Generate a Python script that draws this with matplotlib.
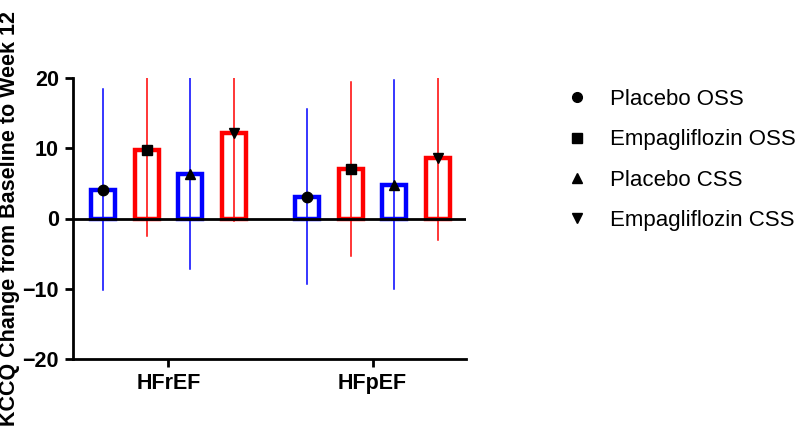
import matplotlib
matplotlib.use("Agg")
import matplotlib.pyplot as plt
from matplotlib.lines import Line2D

plt.rcParams['font.family'] = ['Liberation Sans', 'DejaVu Sans']

groups = ["HFrEF", "HFpEF"]
series = ["Placebo OSS", "Empagliflozin OSS", "Placebo CSS", "Empagliflozin CSS"]
colors = ["#0000ff", "#ff0000", "#0000ff", "#ff0000"]
markers = ["o", "s", "^", "v"]

# mean change per group, one list per series
means = {
    "Placebo OSS": [4.1, 3.1],
    "Empagliflozin OSS": [9.7, 7.0],
    "Placebo CSS": [6.4, 4.8],
    "Empagliflozin CSS": [12.2, 8.6],
}
lower = {
    "Placebo OSS": [-10.2, -9.3],
    "Empagliflozin OSS": [-2.5, -5.4],
    "Placebo CSS": [-7.2, -10.0],
    "Empagliflozin CSS": [-0.3, -3.0],
}
upper = {
    "Placebo OSS": [18.4, 15.6],
    "Empagliflozin OSS": [21.9, 19.4],
    "Placebo CSS": [20.0, 19.7],
    "Empagliflozin CSS": [24.7, 20.2],
}

fig = plt.figure(figsize=(8, 4.37), dpi=100)
ax = fig.add_axes([0.091, 0.1785, 0.4915, 0.643])

group_start = [0, 4.67]
width = 0.55
for i, s in enumerate(series):
    for g in range(len(groups)):
        x = group_start[g] + i
        m = means[s][g]
        ax.bar(x, m, width=width, facecolor="white", edgecolor=colors[i],
               linewidth=3.2, zorder=2)
        ax.plot([x, x], [lower[s][g], upper[s][g]], color=colors[i],
                linewidth=1.1, zorder=3)
        ax.plot(x, m, marker=markers[i], color="black", markersize=7.5,
                linestyle="none", zorder=4)

ax.axhline(0, color="black", linewidth=2.0, zorder=5)

ax.set_ylim(-20, 20)
ax.set_xlim(-0.69, 8.31)
ax.set_yticks([-20, -10, 0, 10, 20])
ax.set_xticks([g + 1.5 for g in group_start])
ax.set_xticklabels(groups)
ax.set_ylabel("KCCQ Change from Baseline to Week 12", fontsize=15.5,
              fontweight="bold")
ax.yaxis.set_label_coords(-0.135, 0.5)

for lab in ax.get_xticklabels() + ax.get_yticklabels():
    lab.set_fontweight("bold")
    lab.set_fontsize(15.5)

ax.spines["top"].set_visible(False)
ax.spines["right"].set_visible(False)
ax.spines["left"].set_linewidth(2.0)
ax.spines["bottom"].set_linewidth(2.0)
ax.tick_params(axis="both", direction="out", length=6, width=2.0, pad=4)

handles = [Line2D([], [], marker=mk, color="black", linestyle="none",
                  markersize=7) for mk in markers]
fig.legend(handles, series, loc="upper left", bbox_to_anchor=(0.682, 0.842),
           frameon=False, fontsize=16.0, handlelength=1.0, handletextpad=1.0,
           labelspacing=0.87)

fig.savefig("out.png", dpi=100)
